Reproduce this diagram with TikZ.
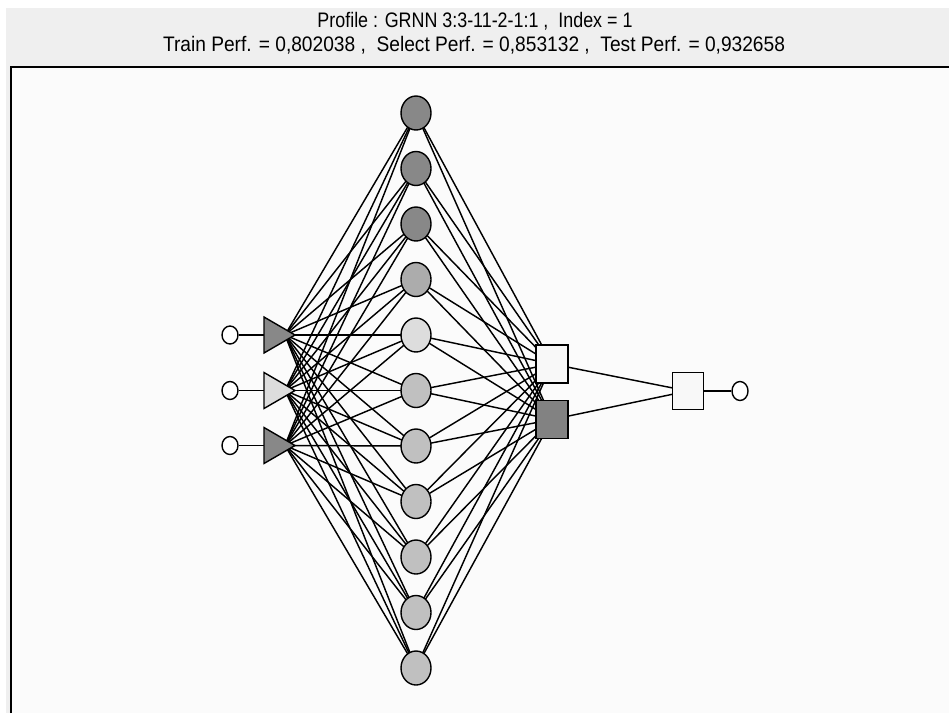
\documentclass[tikz,border=0pt]{standalone}
\usepackage{fontspec}
\setmainfont{Liberation Sans}
\usetikzlibrary{shapes.geometric}
\pgfdeclarelayer{bg}
\pgfdeclarelayer{edges}
\pgfsetlayers{bg,edges,main}
\definecolor{hdrgray}{HTML}{EFEFEF}
\definecolor{panel}{HTML}{FBFBFB}
\definecolor{dk}{HTML}{888888}
\definecolor{md}{HTML}{ACACAC}
\definecolor{lt}{HTML}{DDDDDD}
\definecolor{ml}{HTML}{C0C0C0}
\definecolor{sq}{HTML}{F8F8F8}
\definecolor{sqdk}{HTML}{828282}
\tikzset{
  conn/.style={line width=1.45pt, black},
  hid/.style={ellipse, draw=black, line width=1.4pt, minimum width=30pt, minimum height=34pt, inner sep=0pt},
  smallc/.style={ellipse, draw=black, fill=white, line width=1.4pt, minimum width=16pt, minimum height=18pt, inner sep=0pt},
  sqbox/.style={rectangle, draw=black, line width=1.4pt, minimum width=32pt, minimum height=38pt, inner sep=0pt},
  tri/.style={draw=black, line width=1.4pt, line join=miter},
  hdr/.style={inner sep=0pt, font=\fontsize{21}{24}\selectfont}
}
\begin{document}
\begin{tikzpicture}[x=1pt,y=-1pt]
\useasboundingbox (0,0) rectangle (949,713);
\begin{pgfonlayer}{bg}
  \fill[white] (0,0) rectangle (949,713);
  \fill[hdrgray] (6,8) rectangle (949,713);
  \fill[panel] (11,67) rectangle (949,713);
  \draw[line width=2.2pt] (11,713) -- (11,67) -- (949,67);
\end{pgfonlayer}
% header
\node[hdr] (title1) at (475,21) {\resizebox{315pt}{\height}{Profile : GRNN 3:3-11-2-1:1 ,\ \ Index = 1}};
\node[hdr] (title2) at (474,45) {\resizebox{622pt}{\height}{Train Perf. = 0,802038 ,\ \ Select Perf. = 0,853132 ,\ \ Test Perf. = 0,932658}};
% input circles
\node[smallc] (in1) at (230,335) {};
\node[smallc] (in2) at (230,390.5) {};
\node[smallc] (in3) at (230,445.5) {};
% triangles (tip coordinates and inner anchor)
\foreach \i/\y/\c in {1/335/dk,2/390.5/lt,3/445.5/dk}{
  \coordinate (tb\i) at (264,\y);
  \coordinate (tc\i) at (285,\y);
  \fill[\c] (264,\y-18) -- (295,\y) -- (264,\y+18) -- cycle;
  \draw[tri] (264,\y-18) -- (295,\y) -- (264,\y+18) -- cycle;
}
% hidden nodes
\foreach \k/\c in {1/dk,2/dk,3/dk,4/md,5/lt,6/ml,7/ml,8/ml,9/ml,10/ml,11/ml}{
  \node[hid, fill=\c] (h\k) at (416,{113+55.5*(\k-1)}) {};
}
% pattern units
\node[sqbox, fill=sq] (s1) at (552,364) {};
\node[sqbox, fill=sqdk] (s2) at (552,419.5) {};
% output
\node[sqbox, fill=sq, minimum width=31pt, minimum height=37pt] (o1) at (688,391) {};
\node[smallc, minimum height=19pt] (out) at (740,391) {};
% connectors
\begin{pgfonlayer}{edges}
  \foreach \i in {1,2,3}{
    \draw[conn] (in\i) -- (tb\i);
    \foreach \k in {1,...,11}{ \draw[conn] (tc\i) -- (h\k.center); }
  }
  \foreach \k in {1,...,11}{
    \draw[conn] (h\k.center) -- (s1.center);
    \draw[conn] (h\k.center) -- (s2.center);
  }
  \draw[conn] (s1.center) -- (o1.center);
  \draw[conn] (s2.center) -- (o1.center);
  \draw[conn] (o1) -- (out);
\end{pgfonlayer}
\end{tikzpicture}
\end{document}
